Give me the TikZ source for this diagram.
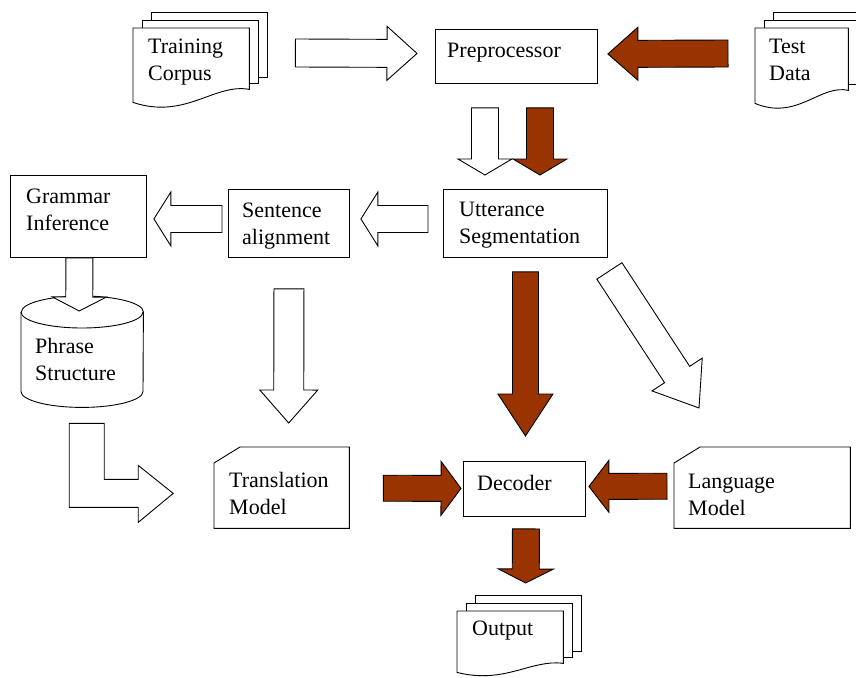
\documentclass[tikz,border=0pt]{standalone}
\usepackage{fontspec}
\setmainfont{Liberation Serif}
\usepackage{tikz}
\usetikzlibrary{calc}
\definecolor{arrowbrown}{HTML}{993300}

\tikzset{
  boxnode/.style={draw, line width=.9pt, fill=white, anchor=north west, inner sep=0pt},
  plainnode/.style={anchor=north west, inner sep=0pt},
  boxtext/.style={anchor=base west, align=left, inner sep=0pt, font=\fontsize{22}{26.5}\selectfont},
  whitearrow/.style={draw=black, line width=.9pt, fill=white},
  brownarrow/.style={draw=black, line width=.9pt, fill=arrowbrown},
  outline/.style={draw=black, line width=.9pt, fill=white}
}

% block arrow: [style]{from}{to}{half shaft}{half head}{head length}
\newcommand\blockarrow[6][whitearrow]{%
  \coordinate (ba) at ($(#3)!#6!(#2)$);
  \draw[#1] ($(#2)!#4!90:(#3)$) -- ($(ba)!#4!-90:(#2)$) -- ($(ba)!#5!-90:(#2)$) -- (#3)
    -- ($(ba)!#5!90:(#2)$) -- ($(ba)!#4!90:(#2)$) -- ($(#2)!#4!-90:(#3)$) -- cycle;
}
% stack of documents behind node #1, wave depth #2
\newcommand\multidoc[2]{%
  \foreach \k in {2,1}{
    \draw[outline] ($(#1.north west)+(9*\k,-8*\k)$) rectangle ($(#1.south east)+(9*\k,-#2-6*\k)$);
  }
  \draw[outline] (#1.north west) -- (#1.north east) -- ($(#1.south east)+(0,-#2)$)
    .. controls ($(#1.south west)!0.7!(#1.south east)+(0,-1.5*#2)$)
    and ($(#1.south west)!0.45!(#1.south east)+(0,1.35*#2)$) .. (#1.south west) -- cycle;
}
% card with cut corner
\newcommand\card[1]{%
  \draw[outline] (#1.north east) -- ($(#1.north west)+(26,0)$) -- ($(#1.north west)+(0,16)$)
    -- (#1.south west) -- (#1.south east) -- cycle;
}

\begin{document}
\begin{tikzpicture}[x=1pt, y=-1pt]
\useasboundingbox (0,0) rectangle (856,677);

% boxes
\node[boxnode, minimum width=162pt, minimum height=54pt] (prep) at (435,29) {};
\node[boxnode, minimum width=164pt, minimum height=68pt] (utt) at (443,189) {};
\node[boxnode, minimum width=121pt, minimum height=68pt] (sent) at (228,189) {};
\node[boxnode, minimum width=136pt, minimum height=82pt] (gram) at (10,175) {};
\node[boxnode, minimum width=122pt, minimum height=55pt] (dec) at (463,461) {};

% documents
\node[plainnode, minimum width=116pt, minimum height=74pt] (train) at (133,28) {};
\multidoc{train}{13}
\node[plainnode, minimum width=93pt, minimum height=75pt] (test) at (755,28) {};
\multidoc{test}{13}
\node[plainnode, minimum width=106pt, minimum height=61pt] (out) at (457,611) {};
\multidoc{out}{9}

% cards
\node[plainnode, minimum width=135pt, minimum height=81pt] (trans) at (214,447) {};
\card{trans}
\node[plainnode, minimum width=176pt, minimum height=81pt] (lang) at (674,447) {};
\card{lang}

% store
\node[plainnode, minimum width=122pt, minimum height=111pt] (phrase) at (21,296) {};
\draw[outline] ($(phrase.north west)+(0,16)$) -- ($(phrase.south west)+(0,-16)$)
  arc[start angle=180, end angle=360, x radius=61pt, y radius=16pt]
  -- ($(phrase.north east)+(0,16)$)
  arc[start angle=0, end angle=180, x radius=61pt, y radius=16pt] -- cycle;
\draw[line width=.9pt] ($(phrase.north west)+(0,16)$)
  arc[start angle=180, end angle=360, x radius=61pt, y radius=16pt];

% texts (base = last line)
\node[boxtext] (prep-t) at ($(prep.north west)+(12,28)$) {Preprocessor};
\node[boxtext] (utt-t) at ($(utt.north west)+(16,54)$) {Utterance\\Segmentation};
\node[boxtext] (sent-t) at ($(sent.north west)+(14,55)$) {Sentence\\alignment};
\node[boxtext] (gram-t) at ($(gram.north west)+(16,55)$) {Grammar\\Inference};
\node[boxtext] (dec-t) at ($(dec.north west)+(14,29)$) {Decoder};
\node[boxtext] (train-t) at ($(train.north west)+(15,52)$) {Training\\Corpus};
\node[boxtext] (test-t) at ($(test.north west)+(14,52)$) {Test\\Data};
\node[boxtext] (out-t) at ($(out.north west)+(15,24)$) {Output};
\node[boxtext] (trans-t) at ($(trans.north west)+(15,67)$) {Translation\\Model};
\node[boxtext] (lang-t) at ($(lang.north west)+(14,68)$) {Language\\Model};
\node[boxtext] (phrase-t) at ($(phrase.north west)+(14,84)$) {Phrase\\Structure};

% block arrows
\coordinate (a1) at ($(train.north east)+(46,25)$);
\coordinate (b1) at ($(prep.west)+(-18,-3)$);
\blockarrow{a1}{b1}{14pt}{27pt}{30pt}
\coordinate (a2) at ($(test.north west)+(-27,25.5)$);
\coordinate (b2) at ($(prep.east)+(10,-2.5)$);
\blockarrow[brownarrow]{a2}{b2}{13.5pt}{26.5pt}{30pt}
\coordinate (a3) at ($(prep.south)+(-31.5,24)$);
\coordinate (b3) at ($(utt.north)+(-40.5,-14)$);
\blockarrow{a3}{b3}{13.5pt}{27pt}{16pt}
\coordinate (a4) at ($(prep.south)+(23.5,24)$);
\coordinate (b4) at ($(utt.north)+(14.5,-14)$);
\blockarrow[brownarrow]{a4}{b4}{13.5pt}{27pt}{16pt}
\coordinate (a5) at ($(utt.west)+(-15,-4.5)$);
\coordinate (b5) at ($(sent.east)+(11,-4.5)$);
\blockarrow{a5}{b5}{13.5pt}{27pt}{17pt}
\coordinate (a6) at ($(sent.west)+(-6,-4.5)$);
\coordinate (b6) at ($(gram.east)+(7,2.5)$);
\blockarrow{a6}{b6}{13.5pt}{27pt}{17pt}
\coordinate (a7) at ($(gram.south)+(1,0)$);
\coordinate (b7) at ($(phrase.north)+(-3,15)$);
\blockarrow{a7}{b7}{13.5pt}{27pt}{14pt}
\coordinate (a8) at ($(sent.south)+(0,31)$);
\coordinate (b8) at ($(trans.north)+(7,-24)$);
\blockarrow{a8}{b8}{15pt}{29pt}{33pt}
\coordinate (a9) at ($(utt.south)+(0,14)$);
\coordinate (b9) at ($(dec.north)+(1,-25)$);
\blockarrow[brownarrow]{a9}{b9}{13pt}{27.5pt}{42pt}
\coordinate (a10) at ($(utt.south east)+(1.5,13)$);
\coordinate (b10) at ($(lang.north west)+(25,-39)$);
\blockarrow{a10}{b10}{15pt}{30pt}{40pt}
\coordinate (a11) at ($(trans.east)+(34,0.5)$);
\coordinate (b11) at ($(dec.west)+(-2,-0.5)$);
\blockarrow[brownarrow]{a11}{b11}{13pt}{27pt}{20pt}
\coordinate (a12) at ($(lang.west)+(-7,-1.5)$);
\coordinate (b12) at ($(dec.east)+(3,-2.5)$);
\blockarrow[brownarrow]{a12}{b12}{13pt}{26pt}{20pt}
\coordinate (a13) at ($(dec.south)+(1.5,12)$);
\coordinate (b13) at ($(out.north)+(15.5,-28)$);
\blockarrow[brownarrow]{a13}{b13}{13.5pt}{27.5pt}{14pt}
% bent arrow from the store to the translation model
\draw[whitearrow] ($(phrase.south)+(-13,16)$) -- ++(35,0) -- ++(0,56) -- ++(34,0) -- ++(0,-14)
  -- ++(35,28) -- ++(-35,29) -- ++(0,-15) -- ++(-69,0) -- cycle;
\end{tikzpicture}
\end{document}
